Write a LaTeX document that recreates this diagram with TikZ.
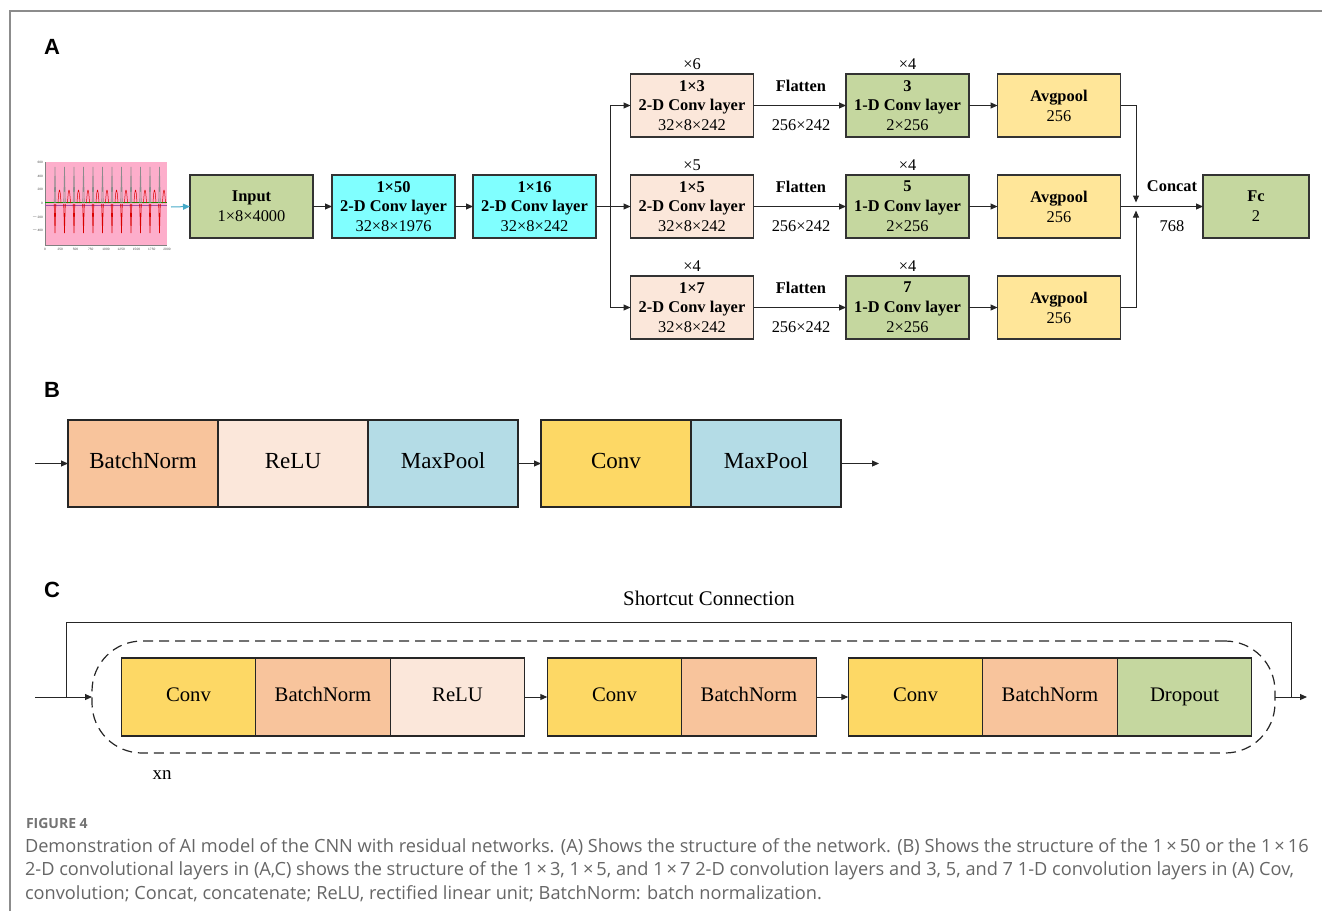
\documentclass[tikz,border=0pt]{standalone}
\usepackage{fontspec}
\setmainfont{Liberation Serif}
\setsansfont{Liberation Sans}
\newfontfamily\capfont{Open Sans}
\usetikzlibrary{arrows.meta,positioning,calc}
\definecolor{cgreen}{HTML}{C5D79F}
\definecolor{ccyan}{HTML}{80FFFF}
\definecolor{cpeach}{HTML}{FBE7DA}
\definecolor{cavg}{HTML}{FFE699}
\definecolor{cconv}{HTML}{FDD865}
\definecolor{cbn}{HTML}{F8C49C}
\definecolor{cmax}{HTML}{B4DCE6}
\definecolor{cpink}{HTML}{FDAECB}
\definecolor{capgray}{HTML}{666666}
\definecolor{framegray}{HTML}{8C8C8C}
\begin{document}
\begin{tikzpicture}[x=1pt,y=-1pt,
  every node/.style={inner sep=0pt, outer sep=0pt},
  boxA/.style={draw=black!80, line width=1.3pt, minimum width=123, minimum height=63, align=center, font=\fontsize{16.4}{19.8}\selectfont},
  boxB/.style={draw=black!85, line width=1.3pt, minimum width=150, minimum height=87, text height=15pt, text depth=5pt, font=\fontsize{23}{26}\selectfont},
  boxC/.style={draw=black!85, line width=1.3pt, minimum width=134.5, minimum height=78, text height=14pt, text depth=4.5pt, font=\fontsize{20.7}{24}\selectfont},
  lbl/.style={font=\fontsize{16.4}{19}\selectfont},
  arr/.style={-{Triangle[length=7pt,width=6pt]}, line width=1pt, draw=black!85},
  ln/.style={line width=1pt, draw=black!85},
  sec/.style={font=\sffamily\bfseries\fontsize{22}{24}\selectfont},
  tick/.style={font=\sffamily\fontsize{3.2}{4}\selectfont, text=black!70},
  captxt/.style={anchor=west, text=capgray, font=\capfont\fontsize{18.2}{20}\selectfont},
]
\useasboundingbox (0,0) rectangle (1322,911);
% frame
\draw[framegray, line width=1.2pt] (10,911) -- (10,11) -- (1322,11);

% section labels
\node[sec] (lA) at (52,47) {A};
\node[sec] (lB) at (52,390) {B};
\node[sec] (lC) at (52,590) {C};

% ---------------- ECG plot ----------------
\fill[cpink] (45,162) rectangle (167,245);
\draw[black!50, line width=0.4pt] (45,162) -- (45,245) -- (167,245);
\draw[green!60!black, line width=0.6pt] (45,202) -- (167,202);
\draw[violet!70, line width=0.5pt] (45,205) -- (167,205);
\foreach \i in {0,...,11} {
  \pgfmathsetmacro{\xx}{55+\i*9.5}
  \draw[red!85!black, line width=0.6pt] (\xx-0.8,204) -- (\xx,233) -- (\xx+0.8,204);
  \draw[black!45, line width=0.6pt] (\xx-0.8,203) -- (\xx,167) -- (\xx+0.8,203);
  \draw[red!85!black, line width=0.5pt] (\xx+3,203) .. controls (\xx+4,186) and (\xx+5,186) .. (\xx+6,203);
}
\node[tick, anchor=east] (t1) at (43,162) {600};
\node[tick, anchor=east] (t2) at (43,176) {400};
\node[tick, anchor=east] (t3) at (43,189) {200};
\node[tick, anchor=east] (t4) at (43,203) {0};
\node[tick, anchor=east] (t5) at (43,217) {$-$200};
\node[tick, anchor=east] (t6) at (43,230) {$-$400};
\foreach \v [count=\k from 0] in {0,250,500,750,1000,1250,1500,1750,2000} {
  \node[tick] at (45+\k*15.25,249) {\v};
}
\coordinate (ecg) at (171,207);

% ---------------- Section A ----------------
\node[boxA, fill=cgreen] (in) at (251.5,206.5) {\textbf{Input}\\1×8×4000};
\node[boxA, fill=ccyan] (b50) at (393.5,206.5) {\textbf{1×50}\\\textbf{2-D Conv layer}\\32×8×1976};
\node[boxA, fill=ccyan] (b16) at (534.5,206.5) {\textbf{1×16}\\\textbf{2-D Conv layer}\\32×8×242};
\draw[-{Triangle[length=7pt,width=6pt]}, line width=1pt, draw={rgb,255:red,70;green,170;blue,200}] (ecg) -- (in.west);
\draw[arr] (in) -- (b50);
\draw[arr] (b50) -- (b16);

\foreach \r/\k/\m/\n/\y in {1/3/6/3/105.5, 2/5/5/5/206.5, 3/7/4/7/307.5} {
  \node[boxA, fill=cpeach] (p\r) at (692,\y) {\textbf{1×\k}\\\textbf{2-D Conv layer}\\32×8×242};
  \node[lbl] (m\r) at (692,\y-41.5) {×\m};
  \node[boxA, fill=cgreen] (o\r) at (907.5,\y) {\textbf{\n}\\\textbf{1-D Conv layer}\\2×256};
  \node[lbl] (q\r) at (907.5,\y-41.5) {×4};
  \node[boxA, fill=cavg] (a\r) at (1059,\y) {\textbf{Avgpool}\\256};
  \node[lbl, font=\bfseries\fontsize{16.4}{19}\selectfont] (f\r) at (801,\y-19.5) {Flatten};
  \node[lbl] (s\r) at (801,\y+19.5) {256×242};
  \draw[arr] (p\r) -- (o\r);
  \draw[arr] (o\r) -- (a\r);
}
\coordinate (split) at (610,206.5);
\draw[ln] (b16.east) -- (split);
\draw[arr] (split) |- (p1.west);
\draw[arr] (split) -- (p2.west);
\draw[arr] (split) |- (p3.west);

\node[boxA, fill=cgreen, minimum width=106] (fc) at (1256,206.5) {\textbf{Fc}\\2};
\coordinate (cjt) at (1136,202.5);
\coordinate (cjb) at (1136,210.5);
\draw[arr] (a1.east) -| (cjt);
\draw[arr] (a3.east) -| (cjb);
\draw[arr] (a2.east) -- (fc.west);
\node[lbl, font=\bfseries\fontsize{16.4}{19}\selectfont] (concat) at (1172,186) {Concat};
\node[lbl] (n768) at (1172,226) {768};

% ---------------- Section B ----------------
\node[boxB, fill=cbn] (B1) at (143,463.5) {BatchNorm};
\node[boxB, fill=cpeach, right=0pt of B1] (B2) {ReLU};
\node[boxB, fill=cmax, right=0pt of B2] (B3) {MaxPool};
\node[boxB, fill=cconv] (B4) at (616,463.5) {Conv};
\node[boxB, fill=cmax, right=0pt of B4] (B5) {MaxPool};
\coordinate (Bin) at (35,463.5);
\coordinate (Bout) at (879,463.5);
\draw[arr] (Bin) -- (B1.west);
\draw[arr] (B3.east) -- (B4.west);
\draw[arr] (B5.east) -- (Bout);

% ---------------- Section C ----------------
\node[font=\fontsize{20.8}{24}\selectfont] (sc) at (709,598) {Shortcut Connection};
\node[draw=black!85, line width=1.2pt, dash pattern=on 10pt off 6pt, rounded corners=50pt, minimum width=1183, minimum height=112] (loop) at (683.5,697) {};
\node[boxC, fill=cconv] (C1) at (188.5,697) {Conv};
\node[boxC, fill=cbn, right=0pt of C1] (C2) {BatchNorm};
\node[boxC, fill=cpeach, right=0pt of C2] (C3) {ReLU};
\node[boxC, fill=cconv] (C4) at (614.5,697) {Conv};
\node[boxC, fill=cbn, right=0pt of C4] (C5) {BatchNorm};
\node[boxC, fill=cconv] (C6) at (915.5,697) {Conv};
\node[boxC, fill=cbn, right=0pt of C6] (C7) {BatchNorm};
\node[boxC, fill=cgreen, right=0pt of C7] (C8) {Dropout};
\draw[arr] (C3.east) -- (C4.west);
\draw[arr] (C5.east) -- (C6.west);
\coordinate (Cin) at (35,697);
\coordinate (Cout) at (1307,697);
\coordinate (sl) at (66,697);
\coordinate (sr) at (1291,697);
\coordinate (stop) at (700,622);
\draw[arr] (Cin) -- (loop.west);
\draw[arr] (loop.east) -- (Cout);
\draw[ln] (sl) |- (stop) -| (sr);
\node[font=\fontsize{19}{22}\selectfont] (xn) at (162,775) {xn};

% ---------------- Caption ----------------
\node[anchor=west, text=black!55, font=\capfont\bfseries\fontsize{14}{16}\selectfont] (fig) at (26,823) {FIGURE 4};
\node[captxt] (cap1) at (25,847) {Demonstration of AI model of the CNN with residual networks. (A) Shows the structure of the network. (B) Shows the structure of the 1\,×\,50 or the 1\,×\,16};
\node[captxt] (cap2) at (25,871) {2-D convolutional layers in (A,C) shows the structure of the 1\,×\,3, 1\,×\,5, and 1\,×\,7 2-D convolution layers and 3, 5, and 7 1-D convolution layers in (A) Cov,};
\node[captxt] (cap3) at (25,894) {convolution; Concat, concatenate; ReLU, rectified linear unit; BatchNorm: batch normalization.};
\end{tikzpicture}
\end{document}
